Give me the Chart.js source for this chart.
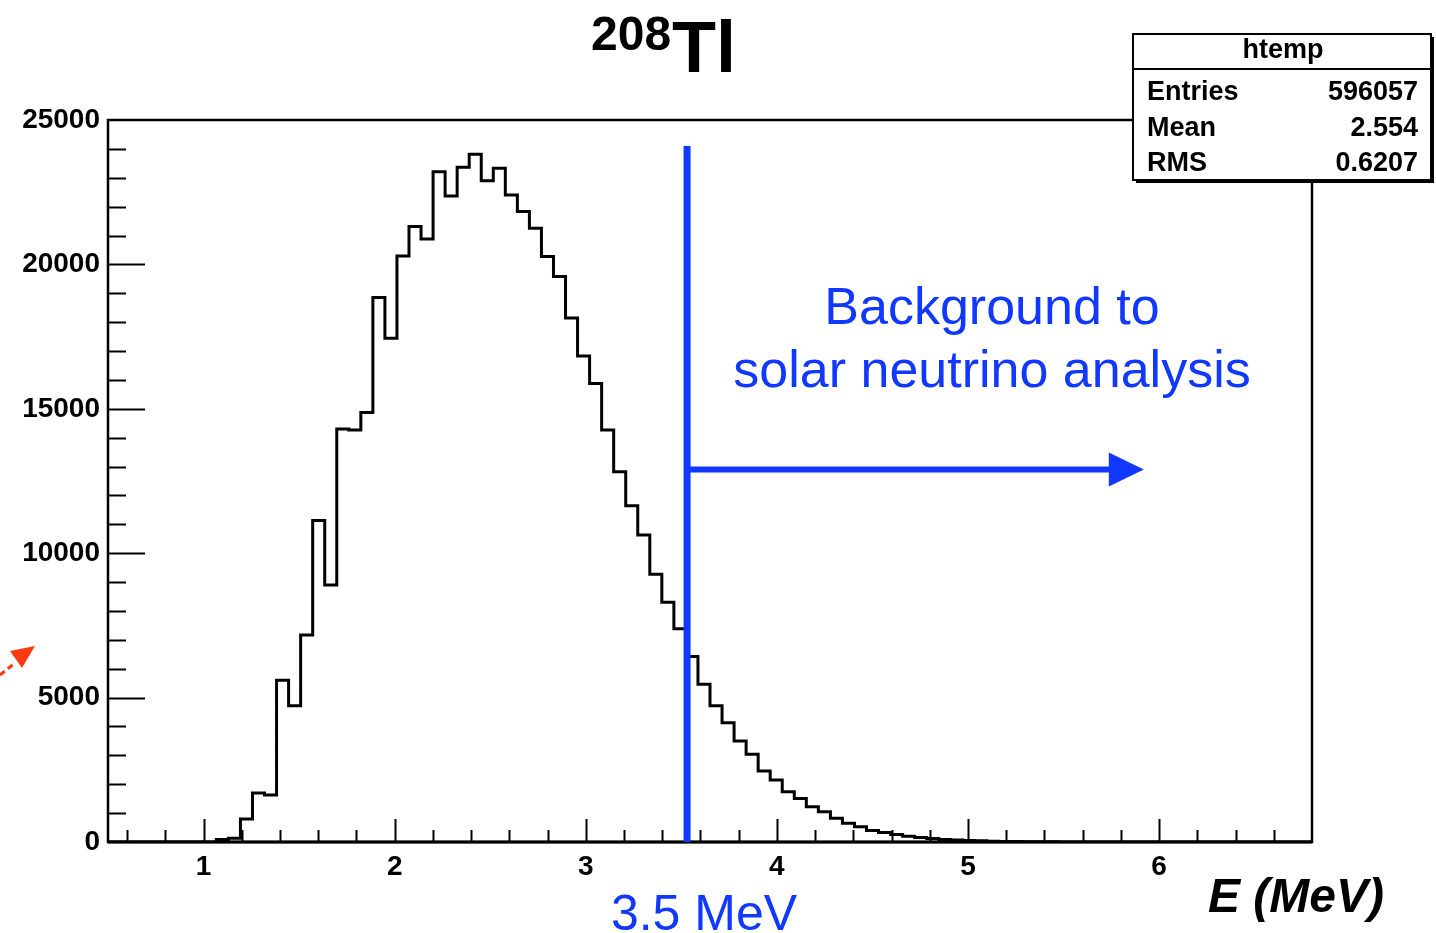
<!DOCTYPE html>
<html>
<head>
<meta charset="utf-8">
<title>208Tl energy spectrum</title>
<script src="https://cdn.jsdelivr.net/npm/chart.js@4.4.1/dist/chart.umd.min.js"></script>
<style>
  html, body { margin: 0; padding: 0; background: #fff; }
  #wrap { width: 1436px; height: 933px; }
</style>
</head>
<body>
<div id="wrap"><canvas id="hist" width="1436" height="933"></canvas></div>
<script>
// binning of htemp (MeV)
const xMin = 0.5;
const xMax = 6.8;
const binWidth = 0.063;

// counts per bin (100 bins)
const binCounts = [
  0, 0, 0, 0, 0, 0, 0, 0, 0, 90,
  130, 800, 1700, 1630, 5600, 4720, 7170, 11130, 8900, 14300,
  14270, 14870, 18850, 17440, 20290, 21310, 20880, 23210, 22370, 23360,
  23810, 22900, 23330, 22400, 21830, 21250, 20270, 19580, 18140, 16830,
  15880, 14270, 12820, 11640, 10630, 9270, 8300, 7380, 6420, 5460,
  4720, 4130, 3500, 3040, 2460, 2150, 1740, 1510, 1220, 1050,
  820, 650, 530, 400, 330, 260, 200, 160, 120, 90,
  70, 50, 40, 30, 20, 15, 10, 8, 5, 3,
  0, 0, 0, 0, 0, 0, 0, 0, 0, 0,
  0, 0, 0, 0, 0, 0, 0, 0, 0, 0
];

const xTickLabels = [1, 2, 3, 4, 5, 6];
const yTickLabels = [0, 5000, 10000, 15000, 20000, 25000];

const statNames = ["Entries", "Mean", "RMS"];
const statValues = ["596057", "2.554", "0.6207"];

// hand drawn cut marker
const cutEnergy = 3.53;
const cutTop = 24100;
const arrowLevel = 12900;
const arrowEnd = 5.92;

const blue = "#1038ff";
const tickFont = { family: "'Liberation Sans', Arial, sans-serif", weight: "bold", size: 28 };

// step outline: two points per bin
const histPoints = [];
binCounts.forEach((c, i) => {
  const lo = xMin + i * binWidth;
  histPoints.push({ x: lo, y: c }, { x: lo + binWidth, y: c });
});

const rootFrame = {
  id: "rootFrame",
  beforeDatasetsDraw(chart) {
    const { ctx, chartArea: a, scales: { x, y } } = chart;
    ctx.save();
    ctx.strokeStyle = "#000";
    ctx.lineWidth = 2;
    ctx.beginPath();
    for (let v = 1000; v < 25000; v += 1000) {
      const py = Math.round(y.getPixelForValue(v)) + 0.5;
      const len = v % 5000 === 0 ? 37 : 18;
      ctx.moveTo(a.left, py);
      ctx.lineTo(a.left + len, py);
    }
    for (let k = 3; k <= 33; k++) {
      const px = Math.round(x.getPixelForValue(k / 5)) + 0.5;
      const len = k % 5 === 0 ? 23 : 12;
      ctx.moveTo(px, a.bottom);
      ctx.lineTo(px, a.bottom - len);
    }
    ctx.stroke();

    ctx.lineWidth = 2.5;
    ctx.strokeRect(a.left, a.top, a.right - a.left, a.bottom - a.top);
    ctx.lineWidth = 3;
    ctx.beginPath();
    ctx.moveTo(a.left, a.bottom);
    ctx.lineTo(a.right, a.bottom);
    ctx.stroke();
    ctx.restore();
  },
  afterDatasetsDraw(chart) {
    const { ctx, scales: { x, y } } = chart;
    ctx.save();

    // cut line and arrow
    const cx = x.getPixelForValue(cutEnergy);
    const ay = y.getPixelForValue(arrowLevel);
    const ax = x.getPixelForValue(arrowEnd);
    ctx.strokeStyle = blue;
    ctx.fillStyle = blue;
    ctx.lineWidth = 7;
    ctx.beginPath();
    ctx.moveTo(cx, y.getPixelForValue(cutTop));
    ctx.lineTo(cx, y.getPixelForValue(0));
    ctx.stroke();
    ctx.lineWidth = 6;
    ctx.beginPath();
    ctx.moveTo(cx, ay);
    ctx.lineTo(ax - 30, ay);
    ctx.stroke();
    ctx.beginPath();
    ctx.moveTo(ax, ay);
    ctx.lineTo(ax - 35, ay - 17);
    ctx.lineTo(ax - 35, ay + 17);
    ctx.closePath();
    ctx.fill();

    ctx.font = "52px 'Liberation Sans', Arial, sans-serif";
    ctx.textAlign = "center";
    ctx.textBaseline = "alphabetic";
    ctx.fillText("Background to", 992, 324);
    ctx.fillText("solar neutrino analysis", 992, 387);
    ctx.font = "50px 'Liberation Sans', Arial, sans-serif";
    ctx.fillText("3.5 MeV", 704, 930);

    // axis title
    ctx.fillStyle = "#000";
    ctx.textAlign = "left";
    ctx.font = "italic bold 48px 'Liberation Sans', Arial, sans-serif";
    ctx.fillText("E (MeV)", 1208, 912);

    // title 208Tl
    ctx.font = "bold 48px 'Liberation Sans', Arial, sans-serif";
    ctx.fillText("208", 591, 50);
    ctx.font = "bold 72px 'Liberation Sans', Arial, sans-serif";
    ctx.fillText("Tl", 672, 72);

    // stats box
    const bx = 1133, by = 34, bw = 298, bh = 146;
    ctx.fillStyle = "#000";
    ctx.fillRect(bx + 3, by + 3, bw, bh);
    ctx.fillStyle = "#fff";
    ctx.fillRect(bx, by, bw, bh);
    ctx.strokeStyle = "#000";
    ctx.lineWidth = 2;
    ctx.strokeRect(bx, by, bw, bh);
    ctx.beginPath();
    ctx.moveTo(bx, 69);
    ctx.lineTo(bx + bw, 69);
    ctx.stroke();
    ctx.fillStyle = "#000";
    ctx.font = "bold 27px 'Liberation Sans', Arial, sans-serif";
    ctx.textAlign = "center";
    ctx.fillText("htemp", 1283, 58);
    const rowBase = [100, 136, 171];
    statNames.forEach((n, i) => {
      ctx.textAlign = "left";
      ctx.fillText(n, 1147, rowBase[i]);
      ctx.textAlign = "right";
      ctx.fillText(statValues[i], 1418, rowBase[i]);
    });

    // red arrow fragment at the left edge
    ctx.fillStyle = "#ff3a12";
    ctx.strokeStyle = "#ff3a12";
    ctx.lineWidth = 3;
    ctx.setLineDash([6, 4]);
    ctx.beginPath();
    ctx.moveTo(0, 675);
    ctx.lineTo(15, 663);
    ctx.stroke();
    ctx.setLineDash([]);
    ctx.beginPath();
    ctx.moveTo(35, 646);
    ctx.lineTo(10, 651);
    ctx.lineTo(22, 668);
    ctx.closePath();
    ctx.fill();
    ctx.restore();
  }
};

new Chart(document.getElementById("hist").getContext("2d"), {
  type: "line",
  data: {
    datasets: [{
      label: "htemp",
      data: histPoints,
      borderColor: "#000",
      borderWidth: 3,
      pointRadius: 0,
      fill: false,
      tension: 0
    }]
  },
  options: {
    responsive: false,
    animation: false,
    devicePixelRatio: 1,
    layout: { padding: { top: 120, right: 124, left: 0, bottom: 0 } },
    plugins: { legend: { display: false }, tooltip: { enabled: false }, title: { display: false } },
    scales: {
      x: {
        type: "linear",
        min: xMin,
        max: xMax,
        afterFit: s => { s.height = 91; },
        afterBuildTicks: s => { s.ticks = xTickLabels.map(v => ({ value: v })); },
        grid: { display: false, drawTicks: false },
        border: { display: false },
        ticks: { font: tickFont, color: "#000", padding: 8, maxRotation: 0, autoSkip: false, callback: v => String(v) }
      },
      y: {
        type: "linear",
        min: 0,
        max: 25000,
        afterFit: s => { s.width = 108; },
        afterBuildTicks: s => { s.ticks = yTickLabels.map(v => ({ value: v })); },
        grid: { display: false, drawTicks: false },
        border: { display: false },
        ticks: { font: tickFont, color: "#000", padding: 8, autoSkip: false, callback: v => String(v) }
      }
    }
  },
  plugins: [rootFrame]
});
</script>
</body>
</html>
